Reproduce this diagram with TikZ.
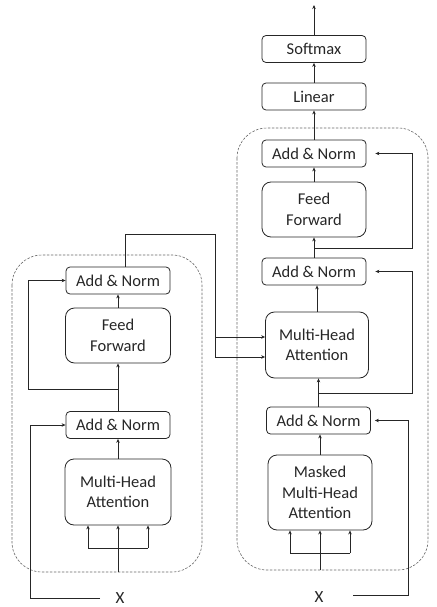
\documentclass[tikz,border=0pt]{standalone}
\usepackage{fontspec}
\setmainfont{Carlito}
\usetikzlibrary{arrows.meta,calc}
\begin{document}
\begin{tikzpicture}[x=1pt,y=-1pt,
 blk/.style={draw=black!85, line width=0.8pt, rounded corners=4pt, align=center, inner sep=0pt, font=\fontsize{16.5}{20.5}\selectfont, text=black!85},
 an/.style={blk, minimum width=104pt, minimum height=27pt},
 big/.style={blk, rounded corners=9pt},
 ln/.style={draw=black!85, line width=0.9pt},
 arr/.style={ln, -{Stealth[length=4pt,width=3.5pt]}},
 grp/.style={draw=black!60, dash pattern=on 2.5pt off 1.5pt, line width=0.6pt, rounded corners=30pt},
 lbl/.style={font=\fontsize{17}{20}\selectfont, inner sep=0pt, text=black!85}]
\useasboundingbox (0,0) rectangle (436,607);
% group boxes
\draw[grp] (12,255) rectangle (202,572);
\draw[grp] (237,128) rectangle (428,570);
% encoder
\node[an] (lan1) at (118,280.5) {Add \& Norm};
\node[big, minimum width=105pt, minimum height=55pt] (lff) at (118,335.5) {Feed\\Forward};
\node[an] (lan2) at (118,425) {Add \& Norm};
\node[big, minimum width=106pt, minimum height=66pt] (lmha) at (118,492) {Multi-Head\\Attention};
\node[lbl] (lx) at (120,598) {X};
\coordinate (lbot) at (118,572);
\coordinate (la) at (88,548);
\coordinate (lb) at (148,548);
\coordinate (ljn) at (118,389);
\coordinate (lxs) at (100,598);
\coordinate (lout) at (125,234);
\coordinate (ea) at (215,337);
\coordinate (eb) at (215,357);
\draw[arr] (lbot) -- (lmha.south);
\draw[ln] (la) -- (lb);
\draw[arr] (la) -- (la |- lmha.south);
\draw[arr] (lb) -- (lb |- lmha.south);
\draw[arr] (lmha) -- (lan2);
\draw[arr] (lan2) -- (lff);
\draw[arr] (lff) -- (lan1);
\draw[arr] (ljn) -- (28,389) |- (lan1.west);
\draw[arr] (lxs) -- (30,598) |- (lan2.west);
% decoder
\node[an] (soft) at (314,49) {Softmax};
\node[an] (lin) at (314,96.5) {Linear};
\node[an] (dan1) at (314,153.5) {Add \& Norm};
\node[big, minimum width=104pt, minimum height=55pt] (dff) at (314,209.5) {Feed\\Forward};
\node[an] (dan2) at (314,271.5) {Add \& Norm};
\node[big, minimum width=103pt, minimum height=66pt] (dmha) at (317,345) {Multi-Head\\Attention};
\node[an] (dan3) at (318.5,420.5) {Add \& Norm};
\node[big, minimum width=104pt, minimum height=75pt] (dmm) at (320,492.5) {Masked\\Multi-Head\\Attention};
\node[lbl] (dx) at (319,597) {X};
\coordinate (dtop) at (314,5);
\coordinate (dbot) at (320,570);
\coordinate (da) at (290,553);
\coordinate (db) at (350,553);
\coordinate (dj1) at (314,248);
\coordinate (dj2) at (318.5,393);
\coordinate (dxs) at (353,595);
% encoder output into decoder attention
\draw[ln] (lan1.north -| lout) -- (lout) -- (215,234) -- (eb);
\draw[arr] (ea) -- (ea -| dmha.west);
\draw[arr] (eb) -- (eb -| dmha.west);
% decoder connectors
\draw[arr] (soft) -- (dtop);
\draw[arr] (lin) -- (soft);
\draw[arr] (dan1) -- (lin);
\draw[arr] (dff) -- (dan1);
\draw[arr] (dan2) -- (dff);
\draw[arr] (dmha.north) -- (dmha.north |- dan2.south);
\draw[arr] (dan3.north) -- (dan3.north |- dmha.south);
\draw[arr] (dmm.north) -- (dmm.north |- dan3.south);
\draw[arr] (dbot) -- (dmm.south);
\draw[ln] (da) -- (db);
\draw[arr] (da) -- (da |- dmm.south);
\draw[arr] (db) -- (db |- dmm.south);
\draw[arr, shorten >=9pt] (dj1) -- (412,248) |- (dan1.east);
\draw[arr, shorten >=9pt] (dj2) -- (412,393) |- (dan2.east);
\draw[arr, shorten >=4pt] (dxs) -- (408,595) |- (dan3.east);
\end{tikzpicture}
\end{document}
